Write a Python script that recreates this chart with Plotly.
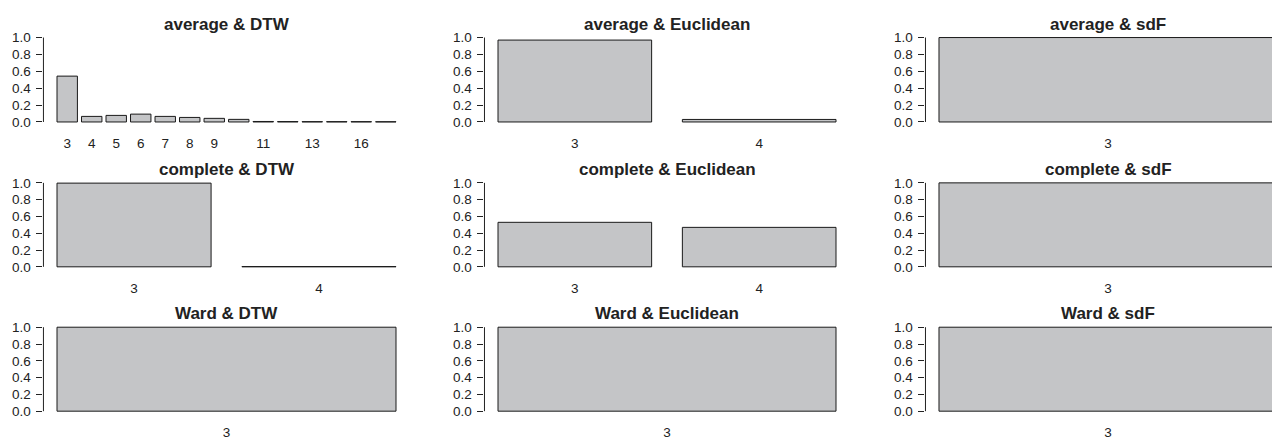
import plotly.graph_objects as go

W, H = 1280, 444
OFF = 8  # page body margin offset compensation (pixels)

# ---------------- data ----------------
avg_dtw_k = ["3", "4", "5", "6", "7", "8", "9", "10", "11", "12", "13", "14", "16", "17"]
avg_dtw_p = [0.543, 0.066, 0.078, 0.093, 0.066, 0.054, 0.043, 0.031, 0.006, 0.005, 0.004, 0.004, 0.004, 0.003]
avg_dtw_shown = ["3", "4", "5", "6", "7", "8", "9", "11", "13", "16"]

avg_euc_k = ["3", "4"]
avg_euc_p = [0.97, 0.03]

avg_sdf_k = ["3"]
avg_sdf_p = [1.0]

com_dtw_k = ["3", "4"]
com_dtw_p = [0.997, 0.003]

com_euc_k = ["3", "4"]
com_euc_p = [0.53, 0.47]

com_sdf_k = ["3"]
com_sdf_p = [1.0]

ward_dtw_k = ["3"]
ward_dtw_p = [1.0]

ward_euc_k = ["3"]
ward_euc_p = [1.0]

ward_sdf_k = ["3"]
ward_sdf_p = [1.0]

y_tickvals = [0.0, 0.2, 0.4, 0.6, 0.8, 1.0]
y_ticktext = ["0.0", "0.2", "0.4", "0.6", "0.8", "1.0"]

panels = [
    ("average & DTW", avg_dtw_k, avg_dtw_p, avg_dtw_shown),
    ("average & Euclidean", avg_euc_k, avg_euc_p, avg_euc_k),
    ("average & sdF", avg_sdf_k, avg_sdf_p, avg_sdf_k),
    ("complete & DTW", com_dtw_k, com_dtw_p, com_dtw_k),
    ("complete & Euclidean", com_euc_k, com_euc_p, com_euc_k),
    ("complete & sdF", com_sdf_k, com_sdf_p, com_sdf_k),
    ("Ward & DTW", ward_dtw_k, ward_dtw_p, ward_dtw_k),
    ("Ward & Euclidean", ward_euc_k, ward_euc_p, ward_euc_k),
    ("Ward & sdF", ward_sdf_k, ward_sdf_p, ward_sdf_k),
]

# ---------------- layout (pixels, in target-image coordinates) ----------------
col_bar_px = [(57, 396), (498, 836), (939, 1277)]      # first-bar left, last-bar right
row_px = [(34, 120), (182, 267.5), (329, 414.5)]        # y pixel of value 1, value 0
BARGAP = 1 / 6
BW = 1 - BARGAP
FONT = "Liberation Sans, Arial, Helvetica, sans-serif"
TXT = "#222222"
FILL = "#c4c5c7"
EDGE = "#1a1a1a"
TICK_SIZE = 13.5
TITLE_SIZE = 17

fig = go.Figure()
layout = dict(
    width=W, height=H, autosize=False,
    margin=dict(l=0, r=0, t=0, b=0),
    paper_bgcolor="white", plot_bgcolor="white",
    showlegend=False, bargap=BARGAP,
    font=dict(family=FONT, color=TXT, size=TICK_SIZE),
)
shapes = []
annotations = []

for idx, (title, ks, ps, shown) in enumerate(panels):
    i = idx + 1
    r, c = divmod(idx, 3)
    L, R = col_bar_px[c]
    L -= OFF
    R -= OFF
    y1px, y0px = row_px[r]
    y1px -= OFF
    y0px -= OFF
    pad = 0.04 * (R - L)
    A = L - pad
    Rfull = R + pad
    Rd = min(Rfull, W)
    n = len(ks)
    ppu = (R - L) / (n - 1 + BW)
    xr = [-BW / 2 - (L - A) / ppu, n - 1 + BW / 2 + (Rd - R) / ppu]

    ypu = (y0px - y1px)
    top_px = y1px - 0.04 * ypu
    bot_px = y0px + 0.04 * ypu

    xa = "x" if i == 1 else f"x{i}"
    ya = "y" if i == 1 else f"y{i}"
    xkey = "xaxis" if i == 1 else f"xaxis{i}"
    ykey = "yaxis" if i == 1 else f"yaxis{i}"

    fig.add_trace(go.Bar(
        x=ks, y=ps, xaxis=xa, yaxis=ya,
        marker=dict(color=FILL, line=dict(color=EDGE, width=1)),
        hoverinfo="x+y",
    ))

    layout[xkey] = dict(
        domain=[A / W, Rd / W], anchor=ya, type="category",
        range=xr, showgrid=False, zeroline=False, showline=False,
        ticks="", tickmode="array", tickvals=shown, ticktext=shown,
        ticklabelstandoff=8, tickfont=dict(size=TICK_SIZE, color=TXT, family=FONT),
        fixedrange=True,
    )
    layout[ykey] = dict(
        domain=[1 - bot_px / H, 1 - top_px / H], anchor=xa,
        range=[-0.04, 1.04], showgrid=False, zeroline=False, showline=False,
        ticks="outside", ticklen=6, tickwidth=1, tickcolor=TXT,
        tickmode="array", tickvals=y_tickvals, ticktext=y_ticktext,
        ticklabelstandoff=3, tickfont=dict(size=TICK_SIZE, color=TXT, family=FONT),
        fixedrange=True,
    )
    shapes.append(dict(
        type="line", xref=f"{xa} domain", yref=ya,
        x0=0, x1=0, y0=0, y1=1,
        line=dict(color=TXT, width=1),
    ))
    annotations.append(dict(
        text=f"<b>{title}</b>", xref="paper", yref="paper",
        x=(A + Rfull) / 2 / W, y=1 - (y1px - 13.5) / H,
        xanchor="center", yanchor="middle", showarrow=False,
        font=dict(size=TITLE_SIZE, color=TXT, family=FONT),
    ))

layout["shapes"] = shapes
layout["annotations"] = annotations
fig.update_layout(**layout)

fig.write_html("out.html")
